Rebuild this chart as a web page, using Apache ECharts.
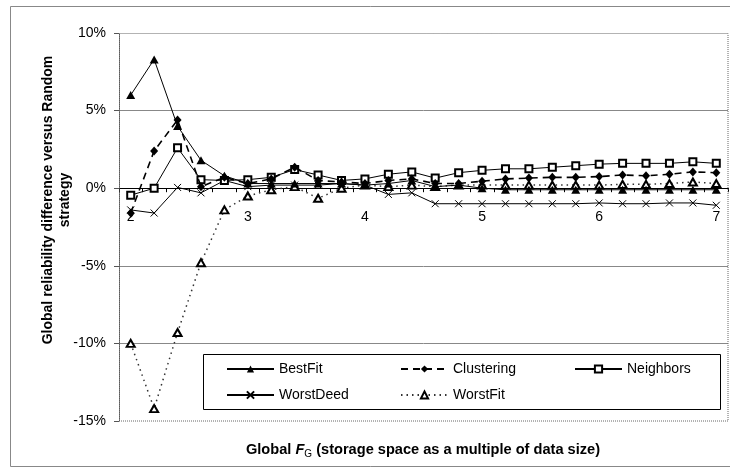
<!DOCTYPE html>
<html>
<head>
<meta charset="utf-8">
<script src="https://cdn.jsdelivr.net/npm/echarts@6/dist/echarts.min.js"></script>
<style>
  html, body { margin: 0; padding: 0; background: #fff; }
  #chart { width: 730px; height: 473px; }
</style>
</head>
<body>
<div id="chart"></div>
<script>
// Global storage factor F_G (categories, step 0.2)
const categories = ['2', '2.2', '2.4', '2.6', '2.8', '3', '3.2', '3.4', '3.6', '3.8',
  '4', '4.2', '4.4', '4.6', '4.8', '5', '5.2', '5.4', '5.6', '5.8',
  '6', '6.2', '6.4', '6.6', '6.8', '7'];

// Reliability difference versus Random strategy, in percent
const bestFit = [6.0, 8.3, 4.0, 1.8, 0.8, 0.3, 0.3, 0.3, 0.3, 0.3, 0.2, 0.3, 0.5, 0.1, 0.2, 0.0,
  -0.1, -0.1, -0.1, -0.1, -0.1, -0.1, -0.1, -0.1, -0.1, -0.1];
const clustering = [-1.6, 2.4, 4.4, 0.1, 0.7, 0.3, 0.6, 1.35, 0.5, 0.4, 0.3, 0.5, 0.6, 0.3, 0.3, 0.45,
  0.6, 0.65, 0.7, 0.7, 0.75, 0.85, 0.8, 0.9, 1.05, 1.0];
const neighbors = [-0.45, 0.0, 2.6, 0.55, 0.5, 0.55, 0.7, 1.2, 0.85, 0.5, 0.6, 0.9, 1.05, 0.65, 1.0, 1.15,
  1.25, 1.25, 1.35, 1.45, 1.55, 1.6, 1.6, 1.6, 1.7, 1.6];
const worstDeed = [-1.4, -1.6, 0.05, -0.3, 0.5, 0.1, 0.2, 0.2, 0.2, 0.3, 0.2, -0.4, -0.3, -1.0, -1.0, -1.0,
  -1.0, -1.0, -1.0, -1.0, -0.95, -1.0, -1.0, -0.95, -0.95, -1.1];
const worstFit = [-10.0, -14.2, -9.3, -4.8, -1.4, -0.5, -0.1, 0.1, -0.65, 0.0, 0.2, 0.1, 0.2, 0.1, 0.2, 0.2,
  0.2, 0.2, 0.2, 0.2, 0.2, 0.25, 0.25, 0.3, 0.4, 0.3];

// Y axis range (percent)
const yMin = -15, yMax = 10, yStep = 5;

const FONT = '"Liberation Sans", Arial, sans-serif';
const crossPath = 'path://M0,0L10,10M10,0L0,10';

// Plot area geometry
const W = 730, H = 473;
const gridTop = 33, gridBottom = 52, gridLeft = 119, gridRight = 2;
const gridHeight = H - gridTop - gridBottom;
// shift the category axis up from the bottom edge to the zero line
const zeroOffset = -gridHeight * (0 - yMin) / (yMax - yMin);

const chart = echarts.init(document.getElementById('chart'), null, { renderer: 'canvas' });

function legendFor(name, left, top) {
  return {
    data: [name], left: left, top: top, orient: 'horizontal',
    itemWidth: 47, itemHeight: 9, itemGap: 0, padding: 0, z: 20,
    selectedMode: false,
    textStyle: { fontFamily: FONT, fontSize: 14, color: '#000' }
  };
}

const option = {
  animation: false,
  backgroundColor: '#fff',
  grid: { left: gridLeft, top: gridTop, right: gridRight, bottom: gridBottom, containLabel: false },
  xAxis: {
    type: 'category', data: categories, boundaryGap: true,
    position: 'bottom', offset: zeroOffset,
    axisLine: { onZero: false, lineStyle: { color: '#000', width: 1 } },
    axisTick: { show: true, interval: 0, length: 4, inside: false, lineStyle: { color: '#000' } },
    axisLabel: { interval: 4, margin: 22, fontFamily: FONT, fontSize: 14, color: '#000' },
    splitLine: { show: false }
  },
  yAxis: {
    type: 'value', min: yMin, max: yMax, interval: yStep,
    axisLine: { show: true, lineStyle: { color: '#555', type: 'dotted' } },
    axisTick: { show: true, length: 5, lineStyle: { color: '#555' } },
    axisLabel: { formatter: '{value}%', margin: 13, fontFamily: FONT, fontSize: 14, color: '#000' },
    splitLine: { show: true, lineStyle: { color: ['transparent', '#888', '#888', 'transparent', '#888', 'transparent'], width: 1 } }
  },
  legend: [
    legendFor('BestFit', 226, 362),
    legendFor('Clustering', 400, 362),
    legendFor('Neighbors', 574, 362),
    legendFor('WorstDeed', 226, 388),
    legendFor('WorstFit', 400, 388)
  ],
  graphic: [
    { type: 'rect', z: 0, silent: true,
      shape: { x: 10.5, y: 6.5, width: 730, height: 460 },
      style: { fill: 'none', stroke: '#888', lineWidth: 1 } },
    { type: 'rect', z: 1, silent: true,
      shape: { x: 119.5, y: 33.5, width: 608.5, height: 387.5 },
      style: { fill: 'none', stroke: '#666', lineWidth: 1, lineDash: [1, 1] } },
    { type: 'rect', z: 15, silent: true,
      shape: { x: 203.5, y: 354.5, width: 517, height: 55 },
      style: { fill: '#fff', stroke: '#000', lineWidth: 1 } },
    { type: 'text', z: 5, silent: true, x: 57, y: 200, rotation: Math.PI / 2,
      style: { text: 'Global reliability difference versus Random\nstrategy',
        font: 'bold 14px ' + FONT, fill: '#000', align: 'center', verticalAlign: 'middle', lineHeight: 17 } },
    { type: 'text', z: 5, silent: true, x: 423, y: 450,
      style: {
        text: '{b|Global }{f|F}{s|G}{b| (storage space as a multiple of data size)}',
        align: 'center', verticalAlign: 'middle',
        rich: {
          b: { fontFamily: FONT, fontWeight: 'bold', fontSize: 14.6, lineHeight: 18, fill: '#000' },
          f: { fontFamily: FONT, fontWeight: 'bold', fontStyle: 'italic', fontSize: 14.6, lineHeight: 18, fill: '#000' },
          s: { fontFamily: FONT, fontSize: 10, lineHeight: 10, verticalAlign: 'bottom', fill: '#000' }
        }
      } }
  ],
  series: [
    { name: 'BestFit', type: 'line', data: bestFit, z: 6,
      symbol: 'triangle', symbolSize: [9, 8],
      itemStyle: { color: '#000' }, lineStyle: { color: '#000', width: 1 } },
    { name: 'Clustering', type: 'line', data: clustering, z: 5,
      symbol: 'diamond', symbolSize: [8, 9],
      itemStyle: { color: '#000' }, lineStyle: { color: '#000', width: 1.6, type: [7, 5] } },
    { name: 'Neighbors', type: 'line', data: neighbors, z: 4,
      symbol: 'emptyRect', symbolSize: 7,
      itemStyle: { color: '#000', borderWidth: 1 }, lineStyle: { color: '#000', width: 1 } },
    { name: 'WorstDeed', type: 'line', data: worstDeed, z: 3,
      symbol: crossPath, symbolSize: 7,
      itemStyle: { color: '#000', borderColor: '#000', borderWidth: 1 }, lineStyle: { color: '#000', width: 1 } },
    { name: 'WorstFit', type: 'line', data: worstFit, z: 2,
      symbol: 'emptyTriangle', symbolSize: [8, 7],
      itemStyle: { color: '#000', borderWidth: 1 }, lineStyle: { color: '#333', width: 1.5, type: [1.5, 4] } }
  ]
};

chart.setOption(option);
</script>
</body>
</html>
